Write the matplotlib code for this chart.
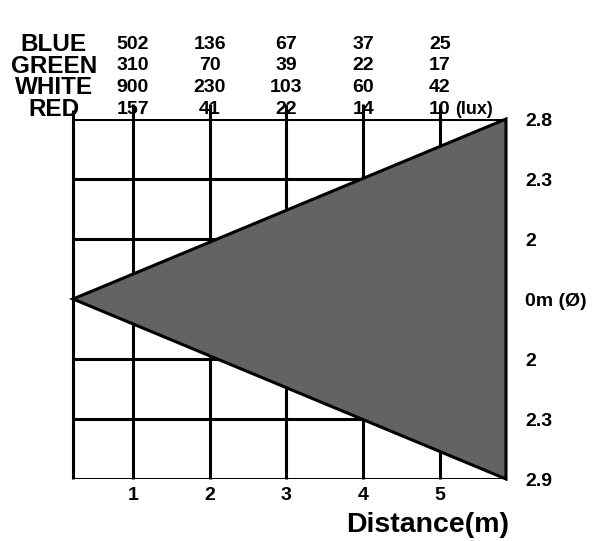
import numpy as np
import matplotlib.pyplot as plt
from matplotlib import font_manager

# Illuminance table (lux) at each distance
distance = [1, 2, 3, 4, 5]
row_names = ["BLUE", "GREEN", "WHITE", "RED"]
blue_lux = [502, 136, 67, 37, 25]
green_lux = [310, 70, 39, 22, 17]
white_lux = [900, 230, 103, 60, 42]
red_lux = [157, 41, 22, 14, 10]

# Beam cone and diameter labels
beam_start = 0.22
beam_end = 5.86
beam_half = 3
grid_levels = [3, 2, 1, 0, -1, -2, -3]
diam_labels = ["2.8", "2.3", "2", "0m (Ø)", "2", "2.3", "2.9"]

# Fonts
names = {f.name for f in font_manager.fontManager.ttflist}
bold_font = "Liberation Sans" if "Liberation Sans" in names else "DejaVu Sans"
num_font, num_size = bold_font, 14

fig = plt.figure(figsize=(5.95, 5.41), dpi=100)
ax = fig.add_axes([73 / 595, 1 - 479 / 541, 433 / 595, 360 / 541])
ax.set_xlim(beam_start, beam_end)
ax.set_ylim(-beam_half, beam_half)

# Grid
lw = 2.2
ax.hlines(grid_levels, beam_start, beam_end, color="black", lw=lw, zorder=1)
ax.vlines(distance, -beam_half, beam_half + 0.25, color="black", lw=lw, zorder=1, clip_on=False)
ax.vlines([beam_start], -beam_half, beam_half + 0.15, color="black", lw=lw, zorder=1, clip_on=False)

# Beam triangle
ax.fill([beam_start, beam_end, beam_end], [0, beam_half, -beam_half],
        facecolor="#636363", edgecolor="black", lw=lw, zorder=2, clip_on=False)

for s in ax.spines.values():
    s.set_visible(False)

# x ticks
ax.set_xticks(distance)
ax.set_xticklabels([str(d) for d in distance], fontfamily=num_font, fontsize=num_size,
                   fontweight="bold")
ax.tick_params(axis="x", length=0, pad=6)

# right side diameter labels
ax.yaxis.tick_right()
ax.set_yticks(grid_levels)
ax.set_yticklabels(diam_labels, fontfamily=num_font, fontsize=num_size, fontweight="bold")
ax.tick_params(axis="y", length=0, pad=14)

# header table
row_y = [4.28, 3.92, 3.56, 3.2]
table = [blue_lux, green_lux, white_lux, red_lux]
for name, vals, y in zip(row_names, table, row_y):
    ax.text(-0.03, y, name, ha="center", va="center_baseline", fontfamily=bold_font,
            fontsize=17.5, fontweight="bold", clip_on=False)
    for d, v in zip(distance, vals):
        ax.text(d, y, str(v), ha="center", va="center_baseline", fontfamily=num_font,
                fontsize=num_size, fontweight="bold", clip_on=False)
ax.text(distance[-1] + 0.2, row_y[-1], "(lux)", ha="left", va="center_baseline",
        fontfamily=num_font, fontsize=num_size - 1, fontweight="bold", clip_on=False)

fig.text(428 / 595, 1 - 525 / 541, "Distance(m)", ha="center", va="center",
         fontfamily=bold_font, fontsize=20.5, fontweight="bold")

fig.savefig("out.png", dpi=100)
